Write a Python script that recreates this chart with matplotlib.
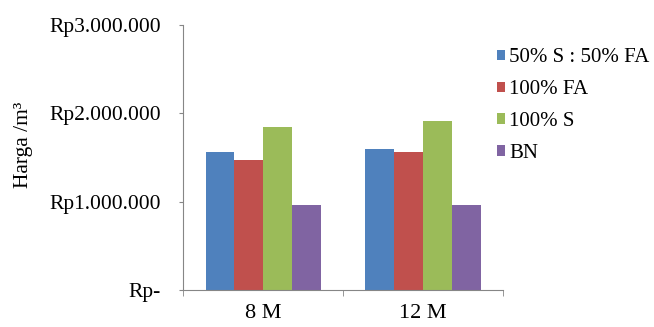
import matplotlib
matplotlib.use("Agg")
import matplotlib.pyplot as plt
import numpy as np

plt.rcParams['font.family'] = ['Liberation Serif', 'DejaVu Serif']

categories = ["8 M", "12 M"]
series_names = ["50% S : 50% FA", "100% FA", "100% S", "BN"]
values = {
    "50% S : 50% FA": [1566000, 1593000],
    "100% FA": [1468000, 1566000],
    "100% S": [1842000, 1917000],
    "BN": [966000, 966000],
}
colors = ["#4F81BD", "#C0504D", "#9BBB59", "#8064A2"]
yticks = [0, 1000000, 2000000, 3000000]
ytick_labels = ["Rp-", "Rp1.000.000", "Rp2.000.000", "Rp3.000.000"]

fig = plt.figure(figsize=(6.54, 3.27), dpi=100)
ax = fig.add_axes([0.280, 0.113, 0.489, 0.811])

x = np.arange(len(categories))
bw = 0.18
for i, name in enumerate(series_names):
    ax.bar(x + (i - 1.5) * bw, values[name], width=bw, color=colors[i], label=name)

ax.set_xlim(-0.5, len(categories) - 0.5)
ax.set_ylim(0, 3000000)
ax.set_yticks(yticks)
ax.set_yticklabels(ytick_labels, fontsize=15.5)
ax.set_xticks(x)
ax.set_xticklabels(categories, fontsize=16)
ax.set_xticks([-0.5, 0.5, 1.5], minor=True)
ax.tick_params(axis='x', which='major', length=0, pad=10)
ax.tick_params(axis='x', which='minor', length=4, color='#868686', direction='out')
ax.tick_params(axis='y', length=3, color='#868686', direction='out', pad=13)

for s in ['top', 'right']:
    ax.spines[s].set_visible(False)
for s in ['left', 'bottom']:
    ax.spines[s].set_color('#868686')

ax.set_ylabel("Harga /m³", fontsize=15.5)
ax.yaxis.set_label_coords(-0.469, 0.547)

ax.legend(loc='center left', bbox_to_anchor=(0.98, 0.695), frameon=False,
          fontsize=15, handlelength=0.4, handleheight=0.4, handletextpad=0.2,
          labelspacing=0.62, borderpad=0, borderaxespad=0)

fig.savefig("out.png", dpi=100)
